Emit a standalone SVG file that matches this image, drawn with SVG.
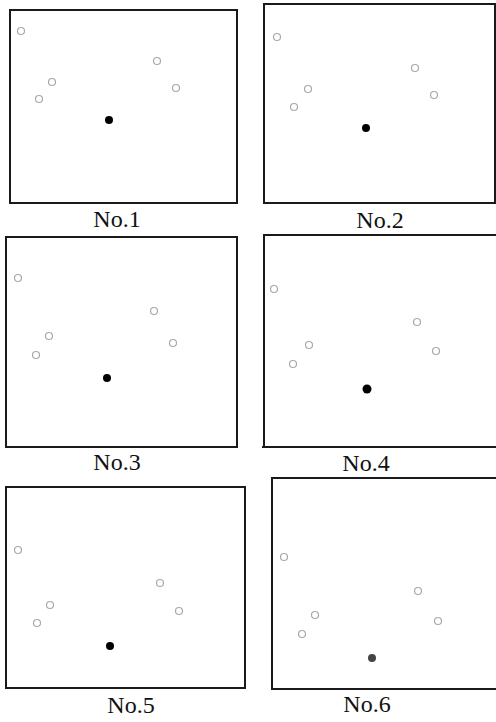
<svg xmlns="http://www.w3.org/2000/svg" width="496" height="722" viewBox="0 0 496 722">
<style>
.frame{fill:none;stroke:#1a1a1a;stroke-width:2}
.o{fill:none;stroke:#a8a8a8;stroke-width:1.2}
.d{fill:#000}
.lbl{font-family:"Liberation Serif","Times New Roman",serif;font-size:24px;fill:#111;text-anchor:middle}
</style>
<rect width="496" height="722" fill="#fff"/>
<g id="panel1">
<rect class="frame" x="10" y="10" width="227" height="193"/>
<circle class="o" cx="21" cy="31" r="3.5"/><circle class="o" cx="52" cy="82" r="3.5"/><circle class="o" cx="39" cy="99" r="3.5"/><circle class="o" cx="157" cy="61" r="3.5"/><circle class="o" cx="176" cy="88" r="3.5"/>
<circle class="d" cx="109" cy="120" r="4"/>
<text class="lbl" x="117" y="227">No.1</text>
</g>
<g id="panel2">
<rect class="frame" x="264" y="4" width="231" height="199"/>
<circle class="o" cx="277" cy="37" r="3.5"/><circle class="o" cx="308" cy="89" r="3.5"/><circle class="o" cx="294" cy="107" r="3.5"/><circle class="o" cx="415" cy="68" r="3.5"/><circle class="o" cx="434" cy="95" r="3.5"/>
<circle class="d" cx="366" cy="128" r="4"/>
<text class="lbl" x="380" y="228">No.2</text>
</g>
<g id="panel3">
<rect class="frame" x="6" y="237" width="231" height="210"/>
<circle class="o" cx="18" cy="278" r="3.5"/><circle class="o" cx="49" cy="336" r="3.5"/><circle class="o" cx="36" cy="355" r="3.5"/><circle class="o" cx="154" cy="311" r="3.5"/><circle class="o" cx="173" cy="343" r="3.5"/>
<circle class="d" cx="107" cy="378" r="4"/>
<text class="lbl" x="117" y="470">No.3</text>
</g>
<g id="panel4">
<path class="frame" d="M500 235 H264 V447 M262 447 H500"/>
<circle class="o" cx="274" cy="289" r="3.5"/><circle class="o" cx="309" cy="345" r="3.5"/><circle class="o" cx="293" cy="364" r="3.5"/><circle class="o" cx="417" cy="322" r="3.5"/><circle class="o" cx="436" cy="351" r="3.5"/>
<circle class="d" cx="367" cy="389" r="4.5"/>
<text class="lbl" x="366" y="471">No.4</text>
</g>
<g id="panel5">
<rect class="frame" x="6" y="487" width="239" height="201"/>
<circle class="o" cx="18" cy="550" r="3.5"/><circle class="o" cx="50" cy="605" r="3.5"/><circle class="o" cx="37" cy="623" r="3.5"/><circle class="o" cx="160" cy="583" r="3.5"/><circle class="o" cx="179" cy="611" r="3.5"/>
<circle class="d" cx="110" cy="646" r="4"/>
<text class="lbl" x="131" y="713">No.5</text>
</g>
<g id="panel6">
<path class="frame" d="M500 478 H272 V689 H500"/>
<circle class="o" cx="284" cy="557" r="3.5" stroke="#c8c8c8"/><circle class="o" cx="315" cy="615" r="3.5" stroke="#c8c8c8"/><circle class="o" cx="302" cy="634" r="3.5" stroke="#c8c8c8"/><circle class="o" cx="418" cy="591" r="3.5" stroke="#c8c8c8"/><circle class="o" cx="438" cy="621" r="3.5" stroke="#c8c8c8"/>
<circle cx="372" cy="658" r="4" fill="#444"/>
<text class="lbl" x="367" y="712">No.6</text>
</g>
<g id="connectors"/>
</svg>
